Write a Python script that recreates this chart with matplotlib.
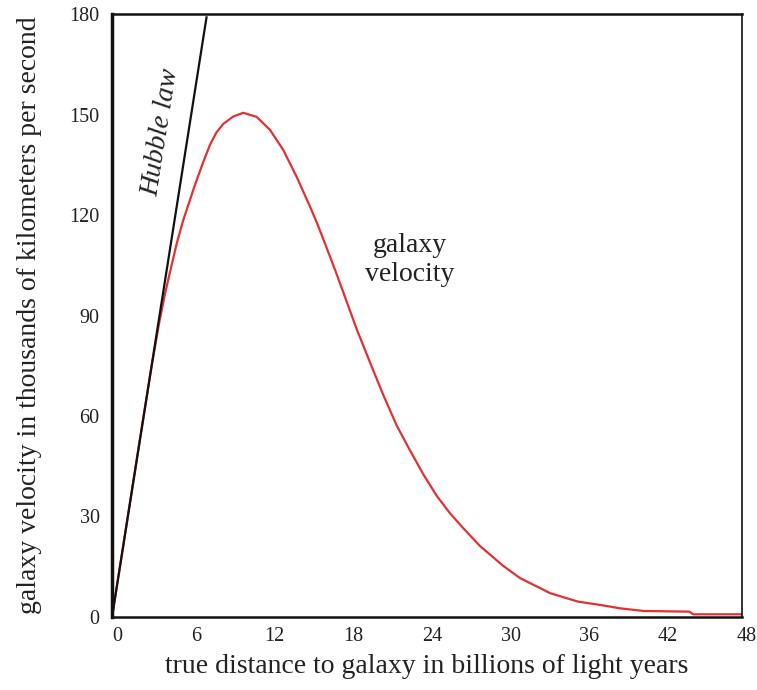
import matplotlib
matplotlib.use("Agg")
import matplotlib.pyplot as plt
import matplotlib.transforms as mtransforms

# red curve: galaxy velocity (thousands of km/s) vs true distance (billions of ly)
dist = [0, 1, 2, 3, 3.6, 4.04, 4.42, 4.93, 5.43, 5.94, 6.32, 6.96, 7.47, 7.95, 8.48, 9.24,
        10.0, 11.02, 12.04, 13.05, 14.07, 15.09, 15.6, 16.1, 17.0, 17.62, 18.64, 19.66,
        20.67, 21.69, 22.7, 23.72, 24.74, 25.75, 26.77, 28.04, 29.8, 31.1, 33.4,
        35.5, 37.2, 38.7, 40.5, 44.0, 44.3, 48]
velocity = [0, 25, 50, 74.5, 88, 96.5, 103, 111.5, 118.5, 124.5, 129.0, 135.9, 141.0, 144.6, 147.2, 149.4,
            150.5, 149.3, 145.4, 139.4, 131.4, 122.5, 117.8, 112.8, 103.6, 97.0, 86.0, 76.0,
            66.3, 57.2, 49.8, 42.6, 36.2, 31.0, 26.5, 21.2, 15.3, 11.6, 7.1,
            4.6, 3.6, 2.6, 1.8, 1.6, 0.8, 0.8]

# Hubble law straight line
hubble_x = [0, 7.2]
hubble_y = [0, 179]

xticks = [0, 6, 12, 18, 24, 30, 36, 42, 48]
yticks = [0, 30, 60, 90, 120, 150, 180]

plt.rcParams['font.family'] = ['Liberation Serif', 'DejaVu Serif']
txt = '#222222'

fig = plt.figure(figsize=(7.57, 6.9), dpi=100)
ax = fig.add_axes([0.148, 0.1058, 0.832, 0.8739])

ax.plot(dist, velocity, color='#e03232', lw=1.6)
ax.plot(hubble_x, hubble_y, color='#111111', lw=1.6)

ax.set_xlim(0, 48)
ax.set_ylim(0, 180)
ax.set_xticks(xticks)
ax.set_yticks(yticks)
ax.tick_params(length=0, labelsize=14.5, colors=txt)
ax.tick_params(axis='x', pad=7)
ax.tick_params(axis='y', pad=9)

# x tick labels sit a little to the right in the original
offset = mtransforms.ScaledTranslation(5 / 100, 0, fig.dpi_scale_trans)
for lab in ax.get_xticklabels():
    lab.set_transform(lab.get_transform() + offset)

ax.spines['left'].set_linewidth(2.5)
ax.spines['bottom'].set_linewidth(1.8)
ax.spines['top'].set_linewidth(1.8)
ax.spines['right'].set_linewidth(1.2)
for s in ax.spines.values():
    s.set_color('#111111')

ax.set_xlabel('true distance to galaxy in billions of light years', fontsize=20, color=txt, labelpad=6)
ax.set_ylabel('galaxy velocity in thousands of kilometers per second', fontsize=20, color=txt, labelpad=20)

ax.text(3.7, 144.8, 'Hubble law', rotation=81, style='italic', fontsize=20,
        ha='center', va='center', color=txt, rotation_mode='anchor')
ax.text(22.7, 106.5, 'galaxy\nvelocity', fontsize=20, ha='center', va='center',
        color=txt, linespacing=1.2)

fig.savefig('out.png', dpi=100)
